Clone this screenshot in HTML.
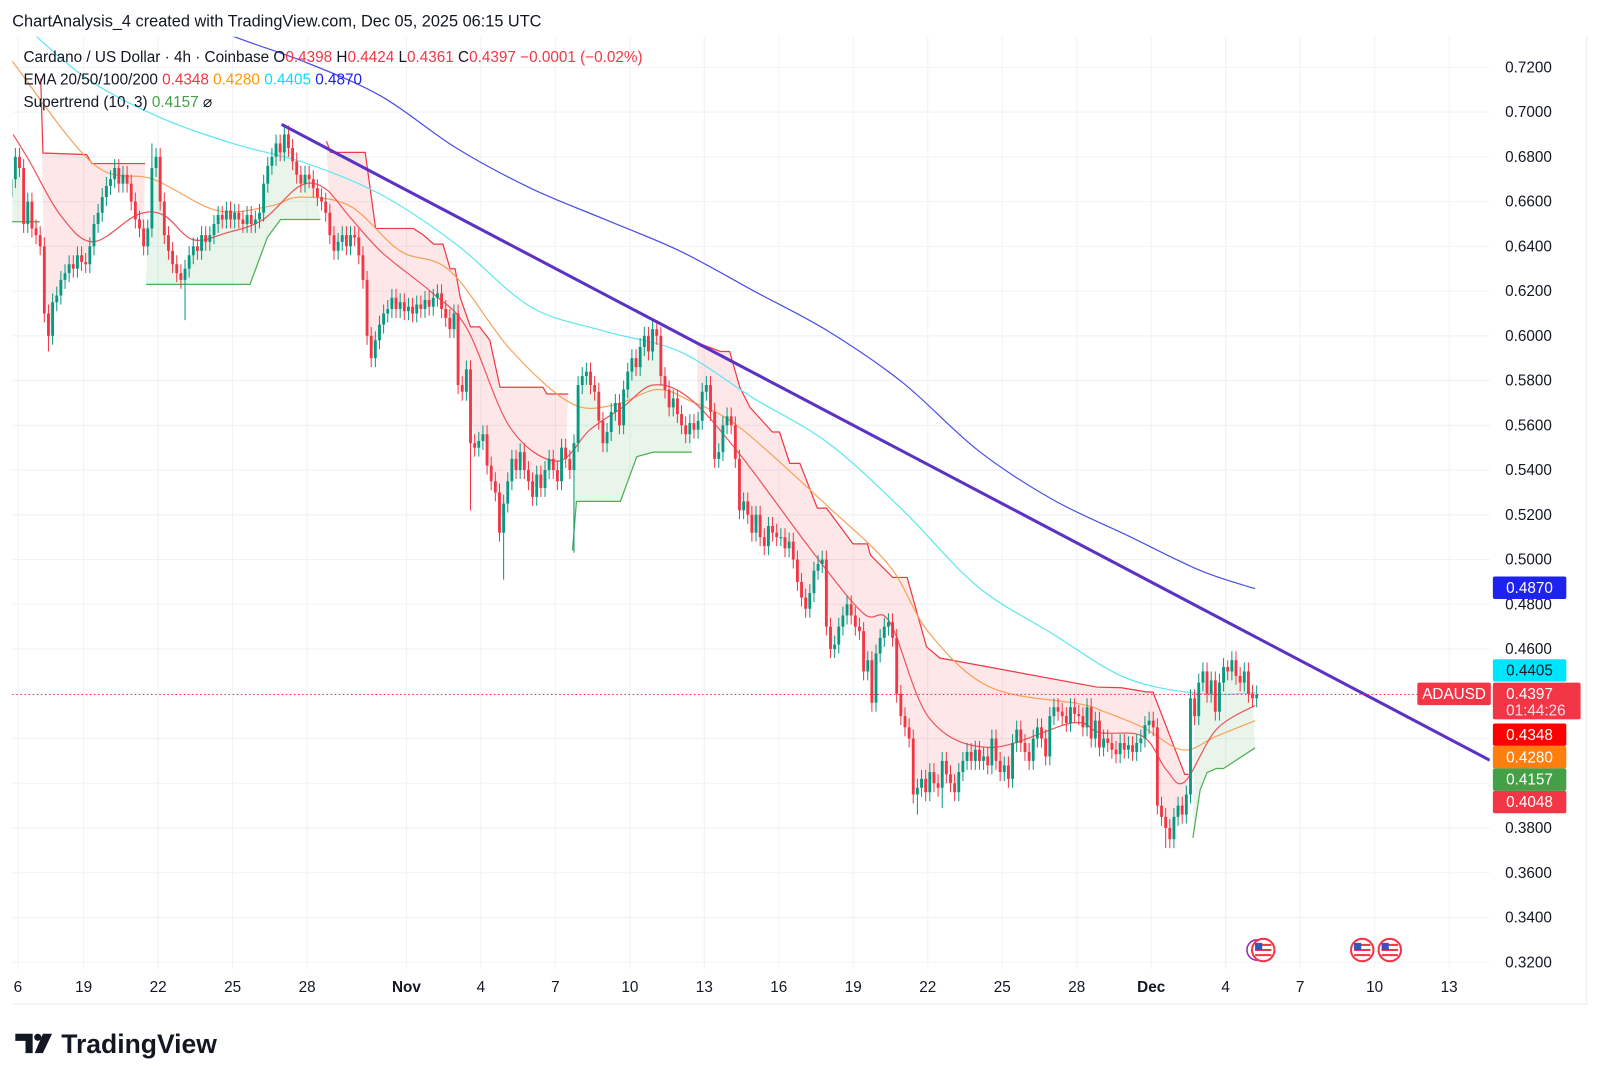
<!DOCTYPE html>
<html><head><meta charset="utf-8"><style>
html,body{margin:0;padding:0;background:#fff;width:1600px;height:1084px;overflow:hidden}
svg{display:block;font-family:"Liberation Sans",Arial,sans-serif}
</style></head><body>
<svg id="chart" width="1600" height="1084" viewBox="0 0 1568 1062.3" preserveAspectRatio="none" xmlns="http://www.w3.org/2000/svg">
<text x="12" y="26" font-size="16" fill="#131722">ChartAnalysis_4 created with TradingView.com, Dec 05, 2025 06:15 UTC</text>
<g id="grid"></g>
<clipPath id="plotClip"><rect x="12" y="36" width="1448" height="912"/></clipPath>
<g id="plot" clip-path="url(#plotClip)"></g>
<g id="axes"></g>
<g font-size="15">
<text x="23" y="61" fill="#131722">Cardano / US Dollar · 4h · Coinbase <tspan fill="#131722">O</tspan><tspan fill="#f23645">0.4398</tspan> <tspan fill="#131722">H</tspan><tspan fill="#f23645">0.4424</tspan> <tspan fill="#131722">L</tspan><tspan fill="#f23645">0.4361</tspan> <tspan fill="#131722">C</tspan><tspan fill="#f23645">0.4397 −0.0001 (−0.02%)</tspan></text>
<text x="23" y="83" fill="#131722">EMA 20/50/100/200 <tspan fill="#f23645">0.4348</tspan> <tspan fill="#ff9800">0.4280</tspan> <tspan fill="#00e5ff">0.4405</tspan> <tspan fill="#1e22e8">0.4870</tspan></text>
<text x="23" y="105" fill="#131722">Supertrend (10, 3) <tspan fill="#43a047">0.4157</tspan> <tspan fill="#131722">⌀</tspan></text>
</g>
<g>
<path d="M15 1013h17v19h-7v-12h-10z" fill="#131722"/>
<circle cx="37" cy="1016.5" r="3.5" fill="#131722"/>
<path d="M42 1013h9l-9 19h-8z" fill="#131722"/>
<text x="60" y="1032" font-size="26" font-weight="bold" fill="#131722">TradingView</text>
</g>
</svg>
<script>
const closes=[
.670,.680,.675,.650,.660,.648, .645,.640,.610,.600,.615,.618, .625,.628,.632,.630,.636,.633, .632,.640,.650,.655,.662,.667,
.670,.675,.668,.672,.668,.660, .652,.648,.640,.648,.675,.680, .660,.645,.638,.632,.628,.625, .630,.636,.640,.638,.645,.642,
.645,.650,.654,.652,.656,.652, .655,.652,.650,.654,.650,.652, .655,.668,.676,.680,.686,.682, .690,.684,.678,.672,.668,.672,
.670,.666,.662,.660,.655,.645, .638,.642,.645,.640,.645,.644, .636,.625,.600,.590,.598,.605, .610,.612,.617,.612,.615,.611,
.613,.610,.614,.612,.616,.613, .617,.619,.612,.608,.603,.610, .578,.575,.585,.552,.550,.553, .556,.542,.535,.530,.512,.525,
.535,.545,.540,.548,.540,.535, .528,.538,.532,.540,.545,.540, .535,.550,.545,.540,.552,.578, .582,.584,.578,.575,.562,.552,
.557,.566,.570,.560,.576,.584, .590,.586,.595,.600,.593,.603, .600,.582,.576,.568,.572,.565, .560,.556,.561,.558,.562,.575,
.578,.566,.545,.548,.560,.564, .560,.545,.522,.526,.520,.512, .520,.510,.506,.515,.512,.510, .510,.505,.508,.500,.490,.483,
.478,.485,.495,.498,.500,.470, .460,.462,.470,.475,.480,.475, .470,.468,.450,.455,.436,.458, .465,.470,.472,.465,.440,.430,
.425,.420,.395,.398,.402,.396, .405,.400,.398,.410,.404,.400, .396,.405,.410,.414,.410,.415, .410,.412,.408,.420,.410,.405,
.408,.402,.418,.424,.418,.414, .410,.420,.425,.420,.412,.430, .434,.432,.430,.427,.434,.431, .430,.425,.434,.420,.428,.416,
.420,.418,.415,.413,.418,.415, .417,.414,.418,.420,.426,.428, .425,.390,.385,.380,.375,.385, .390,.386,.395,.438,.430,.445,
.450,.440,.446,.432,.445,.452, .450,.455,.448,.445,.450,.440, .438,.4397];
const firstOpen=0.662;
const spikeIdx=[9,34,42,66,111,119,136,156,170,219,225,279,294];
const spikeHigh=[null,0.686,null,0.694,null,null,null,0.607,0.570,null,null,null,0.455];
const spikeLow=[0.593,null,0.607,null,0.522,0.491,0.503,null,null,0.386,0.389,0.371,null];

const ema20Days=[.16,.82,2.06,3.37,5.14,6.21,7.40,8.75,10.23,11.71,12.70,13.73,15.04,17.06,18.45,20.18,22.07,23.39,24.70,25.94,27.41,29.43,32.39,34.40,35.47,37.07,39.50,42.83,43.94,45.66,46.61,47.35,48.62,50.18];
const ema20Vals=[.690,.678,.654,.642,.654,.654,.643,.646,.652,.667,.666,.653,.637,.619,.603,.559,.544,.558,.568,.578,.572,.547,.503,.476,.472,.429,.416,.427,.4226,.421,.406,.4007,.424,.4348];
const ema50Days=[.04,3.37,5.8,8.38,10.52,11.71,13.73,15.74,17.76,20.18,22.61,24.33,26.1,27.41,29.43,33.05,35.47,37.07,39.5,43.11,43.94,45.66,47.27,48.62,50.18];
const ema50Vals=[.724,.677,.670,.656,.658,.662,.658,.638,.629,.594,.570,.569,.576,.571,.559,.523,.497,.467,.443,.4355,.4327,.425,.4149,.421,.428];
const ema100Days=[0,3,6,9,12,15,18,21,24,27,30,33,36,39,42,45,48,50.18];
const ema100Vals=[.745,.716,.698,.686,.677,.663,.641,.613,.602,.593,.572,.552,.522,.488,.467,.447,.440,.4405];
const ema200Days=[0,3,6,9,12,15,18,21,24,27,30,33,36,39,42,45,48,50.18];
const ema200Vals=[.762,.755,.748,.734,.722,.707,.684,.666,.652,.638,.620,.602,.579,.549,.527,.511,.495,.487];
const stDays=[.04,1.23, 1.27,1.36,3.12,3.33,5.47, 5.51,9.70,10.40,10.93,12.54, 12.78,12.95,14.34,14.76,16.28,16.69,17.10,17.47,17.76,17.96,18.17,18.58,18.95,19.36,19.77,21.50,21.66,22.52, 22.69,22.85,24.62,25.28,25.94,27.50, 27.70,28.65,29.02,29.43,29.84,30.74,31.03,31.44,31.85,32.55,32.92,33.99,34.57,34.69,35.59,36.17,36.95,37.48,43.81,44.80,45.83,46.07,47.35, 47.51,47.68,47.97,48.25,48.62,48.91,50.18];
const stVals=[.651,.651, .715,.6817,.681,.677,.677, .623,.623,.644,.652,.652, .687,.682,.682,.648,.648,.645,.641,.641,.630,.630,.617,.604,.604,.598,.577,.577,.574,.574, .504,.526,.526,.546,.548,.548, .597,.593,.593,.577,.568,.557,.557,.543,.543,.523,.523,.507,.507,.502,.492,.492,.461,.456,.443,.4427,.4408,.4408,.404,.404, .3756,.397,.4048,.4066,.4066,.4158,.4157];
const stTrend=["u","u","d","d","d","d","d","u","u","u","u","u","d","d","d","d","d","d","d","d","d","d","d","d","d","d","d","d","d","d","u","u","u","u","u","u","d","d","d","d","d","d","d","d","d","d","d","d","d","d","d","d","d","d","d","d","d","d","d","d","u","u","u","u","u","u","u"];
const trendDays=[10.97,59.64];
const trendVals=[.6945,.4103];
const priceTicks=[0.72,0.70,0.68,0.66,0.64,0.62,0.60,0.58,0.56,0.54,0.52,0.50,0.48,0.46,0.38,0.36,0.34,0.32];
const gridPrices=[0.72,0.70,0.68,0.66,0.64,0.62,0.60,0.58,0.56,0.54,0.52,0.50,0.48,0.46,0.44,0.42,0.40,0.38,0.36,0.34,0.32];
const dateDays=[0.35,3,6,9,12,16,19,22,25,28,31,34,37,40,43,46,49,52,55,58];
const dateLabels=["6","19","22","25","28","Nov","4","7","10","13","16","19","22","25","28","Dec","4","7","10","13"];
const badgeVals=[0.4870,0.4405,0.4397,0.4348,0.4280,0.4157,0.4048];
const badgeColors=["#1e22f0","#00e5ff","#f23645","#ff0000","#ff7f0e","#43a047","#f23645"];
const badgeY=[576,657,680,720,742,764,786];

const NS="http://www.w3.org/2000/svg";
const X=d=>9+d*24.33;
const Y=p=>66+(0.72-p)*2192.5;
const CI=i=>X(i/6)+2;
function mk(tag,attrs,parent){const e=document.createElementNS(NS,tag);for(const k in attrs)e.setAttribute(k,attrs[k]);parent.appendChild(e);return e;}
const grid=document.getElementById('grid'),plot=document.getElementById('plot'),axes=document.getElementById('axes');

gridPrices.forEach(p=>{const l=mk('line',{x1:12,x2:1460,y1:Y(p),y2:Y(p),stroke:'#f0f2f5','stroke-width':1},grid);

});
dateDays.forEach(d=>{const l=mk('line',{x1:X(d),x2:X(d),y1:36,y2:950,stroke:'#f0f2f5','stroke-width':1},grid);

});
mk('line',{x1:12,x2:1555,y1:984,y2:984,stroke:'#e8eaee'},grid);
mk('line',{x1:1555,x2:1555,y1:36,y2:984,stroke:'#eceef2'},grid);

const opens=closes.map((c,i)=>i===0?firstOpen:closes[i-1]);
const highs=closes.map((c,i)=>Math.max(c,opens[i])+0.004);
const lows=closes.map((c,i)=>Math.min(c,opens[i])-0.004);
spikeIdx.forEach((idx,k)=>{if(spikeHigh[k]!==null)highs[idx]=spikeHigh[k];if(spikeLow[k]!==null)lows[idx]=spikeLow[k];});
const mids=closes.map((c,i)=>(c+opens[i])/2);

let segs=[],cur=null;
stDays.forEach((d,k)=>{if(!cur||cur.t!==stTrend[k]){cur={t:stTrend[k],pts:[]};segs.push(cur);}cur.pts.push([d,stVals[k]]);});
segs.forEach(s=>{
  const d0=s.pts[0][0],d1=s.pts[s.pts.length-1][0];
  let pts=s.pts.map(p=>X(p[0])+','+Y(p[1]));
  const back=[];
  for(let i=0;i<closes.length;i++){const d=i/6+0.08;if(d>=d0&&d<=d1)back.push(CI(i)+','+Y(mids[i]));}
  back.reverse();
  const f=mk('polygon',{points:pts.concat(back).join(' '),fill:s.t==='u'?'rgba(76,175,80,0.12)':'rgba(242,54,69,0.12)'},plot);
  
  
  const ln=mk('polyline',{points:pts.join(' '),fill:'none',stroke:s.t==='u'?'#4caf50':'#f23645','stroke-width':1.2},plot);
  
  
});

function smooth(days,vals,color,name,w){
  const P=days.map((d,i)=>[X(d),Y(vals[i])]);
  let dstr='M'+P[0][0]+','+P[0][1];
  for(let i=0;i<P.length-1;i++){
    const p0=P[Math.max(0,i-1)],p1=P[i],p2=P[i+1],p3=P[Math.min(P.length-1,i+2)];
    const c1x=p1[0]+(p2[0]-p0[0])/6,c1y=p1[1]+(p2[1]-p0[1])/6;
    const c2x=p2[0]-(p3[0]-p1[0])/6,c2y=p2[1]-(p3[1]-p1[1])/6;
    dstr+=' C'+c1x+','+c1y+' '+c2x+','+c2y+' '+p2[0]+','+p2[1];
  }
  const pl=mk('path',{d:dstr,fill:'none',stroke:color,'stroke-width':w||1.2},plot);
  
  
}
smooth(ema200Days,ema200Vals,'#4b4ee8','ema-200-line');
smooth(ema100Days,ema100Vals,'#5ee6f2','ema-100-line');
smooth(ema50Days,ema50Vals,'#f7a25a','ema-50-line');
smooth(ema20Days,ema20Vals,'#f0535e','ema-20-line');

closes.forEach((c,i)=>{
  const o=opens[i],up=c>=o,col=up?'#089981':'#f23645',x=CI(i);
  const g=mk('g',{},plot);
  
  
  mk('line',{x1:x,x2:x,y1:Y(highs[i]),y2:Y(lows[i]),stroke:col,'stroke-width':1},g);
  const t=Y(Math.max(o,c)),b=Y(Math.min(o,c));
  mk('rect',{x:x-1.4,y:t,width:2.8,height:Math.max(1,b-t),fill:col},g);
});

const tl=mk('line',{x1:X(trendDays[0]),y1:Y(trendVals[0]),x2:X(trendDays[1]),y2:Y(trendVals[1]),stroke:'#5b33c4','stroke-width':3},plot);



const dl=mk('line',{x1:12,x2:1460,y1:Y(closes[closes.length-1]),y2:Y(closes[closes.length-1]),stroke:'#f23645','stroke-width':1,'stroke-dasharray':'1.5,2.5'},plot);



priceTicks.forEach(p=>{const t=mk('text',{x:1475,y:Y(p)+5,'font-size':15,fill:'#131722'},axes);t.textContent=p.toFixed(4);

});
dateLabels.forEach((l,k)=>{const t=mk('text',{x:X(dateDays[k]),y:972,'font-size':15,'text-anchor':'middle',fill:'#131722','font-weight':(l==='Nov'||l==='Dec')?'bold':'normal'},axes);t.textContent=l;

});

badgeVals.forEach((v,k)=>{
  const g=mk('g',{},axes);
  
  
  const y=badgeY[k];
  if(k===2){
    mk('rect',{x:1463,y:y-11,width:86,height:36,rx:2,fill:badgeColors[k]},g);
    const t=mk('text',{x:1476,y:y+5,'font-size':15,fill:'#fff'},g);t.textContent=v.toFixed(4);
    const t2=mk('text',{x:1476,y:y+21,'font-size':15,fill:'#fde'},g);t2.textContent='01:44:26';
    mk('rect',{x:1389,y:y-11,width:72,height:22,rx:2,fill:badgeColors[k]},g);
    const t3=mk('text',{x:1425,y:y+5,'font-size':15,fill:'#fff','text-anchor':'middle'},g);t3.textContent='ADAUSD';
  } else {
    mk('rect',{x:1463,y:y-11,width:72,height:22,rx:2,fill:badgeColors[k]},g);
    const t=mk('text',{x:1476,y:y+5,'font-size':15,fill:k===1?'#131722':'#fff'},g);t.textContent=v.toFixed(4);
  }
});

[1238,1335,1362].forEach((x,k)=>{
  const g=mk('g',{},axes);
  
  
  if(k===0)mk('circle',{cx:x-6,cy:931,r:10,fill:'#fff',stroke:'#9c27b0','stroke-width':1.5},g);
  mk('circle',{cx:x,cy:931,r:11,fill:'#fff',stroke:'#f23645','stroke-width':2},g);
  mk('rect',{x:x-8,y:925,width:16,height:2,fill:'#f23645'},g);
  mk('rect',{x:x-8,y:930,width:16,height:2,fill:'#f23645'},g);
  mk('rect',{x:x-8,y:935,width:16,height:2,fill:'#f23645'},g);
  mk('rect',{x:x-8,y:924,width:7,height:7,fill:'#3f51b5'},g);
});
</script>
</body></html>
